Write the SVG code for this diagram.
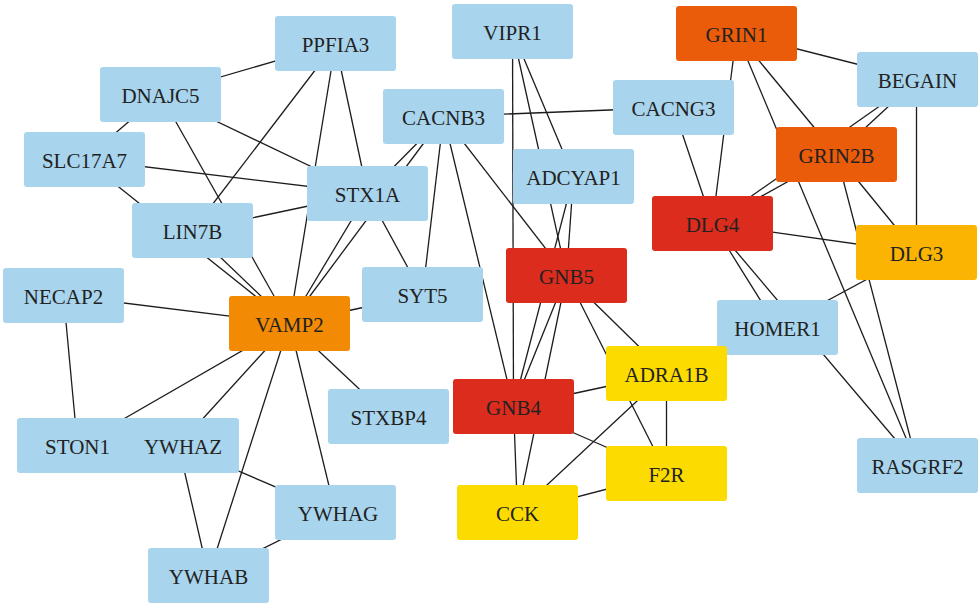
<svg xmlns="http://www.w3.org/2000/svg" width="978" height="603" viewBox="0 0 978 603">
<style>
.e line{stroke:#1c1c1c;stroke-width:1.3;fill:none}
rect{rx:3;ry:3;width:121px;height:55px}
.b{fill:#a8d5ed}.o{fill:#f28a04}.g{fill:#ea5b0a}.r{fill:#dc2c1d}.d{fill:#fbb401}.y{fill:#fcdb00}
text{font-family:"Liberation Serif","Times New Roman",serif;font-size:21px;fill:#222;text-anchor:middle}
</style>
<rect width="978" height="603" x="0" y="0" style="fill:#fff;rx:0;ry:0"/>
<g class="e" id="connectors">
<line x1="160.5" y1="94.5" x2="335.5" y2="43.5"/>
<line x1="335.5" y1="43.5" x2="192.5" y2="230.5"/>
<line x1="335.5" y1="43.5" x2="289.5" y2="323.5"/>
<line x1="335.5" y1="43.5" x2="367.5" y2="193.5"/>
<line x1="160.5" y1="94.5" x2="84.5" y2="159.5"/>
<line x1="160.5" y1="94.5" x2="289.5" y2="323.5"/>
<line x1="160.5" y1="94.5" x2="367.5" y2="193.5"/>
<line x1="84.5" y1="159.5" x2="367.5" y2="193.5"/>
<line x1="84.5" y1="159.5" x2="289.5" y2="323.5"/>
<line x1="192.5" y1="230.5" x2="289.5" y2="323.5"/>
<line x1="192.5" y1="230.5" x2="367.5" y2="193.5"/>
<line x1="367.5" y1="193.5" x2="289.5" y2="323.5"/>
<line x1="443.5" y1="116.5" x2="367.5" y2="193.5"/>
<line x1="443.5" y1="116.5" x2="289.5" y2="323.5"/>
<line x1="367.5" y1="193.5" x2="422.5" y2="294.5"/>
<line x1="443.5" y1="116.5" x2="422.5" y2="294.5"/>
<line x1="443.5" y1="116.5" x2="513.5" y2="406.5"/>
<line x1="443.5" y1="116.5" x2="566.5" y2="275.5"/>
<line x1="443.5" y1="116.5" x2="673.5" y2="107.5"/>
<line x1="512.5" y1="31.5" x2="513.5" y2="406.5"/>
<line x1="512.5" y1="31.5" x2="566.5" y2="275.5"/>
<line x1="512.5" y1="31.5" x2="573.5" y2="176.5"/>
<line x1="573.5" y1="176.5" x2="566.5" y2="275.5"/>
<line x1="573.5" y1="176.5" x2="513.5" y2="406.5"/>
<line x1="566.5" y1="275.5" x2="513.5" y2="406.5"/>
<line x1="566.5" y1="275.5" x2="517.5" y2="512.5"/>
<line x1="513.5" y1="406.5" x2="517.5" y2="512.5"/>
<line x1="566.5" y1="275.5" x2="666.5" y2="373.5"/>
<line x1="566.5" y1="275.5" x2="666.5" y2="473.5"/>
<line x1="513.5" y1="406.5" x2="666.5" y2="373.5"/>
<line x1="513.5" y1="406.5" x2="666.5" y2="473.5"/>
<line x1="666.5" y1="373.5" x2="666.5" y2="473.5"/>
<line x1="666.5" y1="373.5" x2="517.5" y2="512.5"/>
<line x1="666.5" y1="473.5" x2="517.5" y2="512.5"/>
<line x1="673.5" y1="107.5" x2="712.5" y2="223.5"/>
<line x1="736.5" y1="33.5" x2="712.5" y2="223.5"/>
<line x1="736.5" y1="33.5" x2="917.5" y2="79.5"/>
<line x1="736.5" y1="33.5" x2="836.5" y2="154.5"/>
<line x1="736.5" y1="33.5" x2="917.5" y2="465.5"/>
<line x1="836.5" y1="154.5" x2="917.5" y2="465.5"/>
<line x1="836.5" y1="154.5" x2="916.5" y2="252.5"/>
<line x1="917.5" y1="79.5" x2="712.5" y2="223.5"/>
<line x1="917.5" y1="79.5" x2="836.5" y2="154.5"/>
<line x1="836.5" y1="154.5" x2="712.5" y2="223.5"/>
<line x1="916.5" y1="79.5" x2="916.5" y2="252.5"/>
<line x1="712.5" y1="223.5" x2="916.5" y2="252.5"/>
<line x1="712.5" y1="223.5" x2="777.5" y2="327.5"/>
<line x1="712.5" y1="223.5" x2="917.5" y2="465.5"/>
<line x1="916.5" y1="252.5" x2="777.5" y2="327.5"/>
<line x1="63.5" y1="295.5" x2="289.5" y2="323.5"/>
<line x1="63.5" y1="295.5" x2="77.5" y2="445.5"/>
<line x1="289.5" y1="323.5" x2="422.5" y2="294.5"/>
<line x1="289.5" y1="323.5" x2="388.5" y2="416.5"/>
<line x1="289.5" y1="323.5" x2="77.5" y2="445.5"/>
<line x1="289.5" y1="323.5" x2="178.5" y2="445.5"/>
<line x1="289.5" y1="323.5" x2="208.5" y2="575.5"/>
<line x1="289.5" y1="323.5" x2="335.5" y2="512.5"/>
<line x1="178.5" y1="445.5" x2="335.5" y2="512.5"/>
<line x1="178.5" y1="445.5" x2="208.5" y2="575.5"/>
<line x1="335.5" y1="512.5" x2="208.5" y2="575.5"/>
</g>
<g id="PPFIA3"><rect class="b" x="275" y="16"/><text x="335.5" y="51.5">PPFIA3</text></g>
<g id="DNAJC5"><rect class="b" x="100" y="67"/><text x="160.5" y="102.5">DNAJC5</text></g>
<g id="SLC17A7"><rect class="b" x="24" y="132"/><text x="84.5" y="167.5">SLC17A7</text></g>
<g id="LIN7B"><rect class="b" x="132" y="203"/><text x="192.5" y="238.5">LIN7B</text></g>
<g id="STX1A"><rect class="b" x="307" y="166"/><text x="367.5" y="201.5">STX1A</text></g>
<g id="CACNB3"><rect class="b" x="383" y="89"/><text x="443.5" y="124.5">CACNB3</text></g>
<g id="NECAP2"><rect class="b" x="3" y="268"/><text x="63.5" y="303.5">NECAP2</text></g>
<g id="VIPR1"><rect class="b" x="452" y="4"/><text x="512.5" y="39.5">VIPR1</text></g>
<g id="GRIN1"><rect class="g" x="676" y="6"/><text x="736.5" y="41.5">GRIN1</text></g>
<g id="BEGAIN"><rect class="b" x="857" y="52"/><text x="917.5" y="87.5">BEGAIN</text></g>
<g id="CACNG3"><rect class="b" x="613" y="80"/><text x="673.5" y="115.5">CACNG3</text></g>
<g id="ADCYAP1"><rect class="b" x="513" y="149"/><text x="573.5" y="184.5">ADCYAP1</text></g>
<g id="GRIN2B"><rect class="g" x="776" y="127"/><text x="836.5" y="162.5">GRIN2B</text></g>
<g id="DLG4"><rect class="r" x="652" y="196"/><text x="712.5" y="231.5">DLG4</text></g>
<g id="DLG3"><rect class="d" x="856" y="225"/><text x="916.5" y="260.5">DLG3</text></g>
<g id="GNB5"><rect class="r" x="506" y="248"/><text x="566.5" y="283.5">GNB5</text></g>
<g id="SYT5"><rect class="b" x="362" y="267"/><text x="422.5" y="302.5">SYT5</text></g>
<g id="VAMP2"><rect class="o" x="229" y="296"/><text x="289.5" y="331.5">VAMP2</text></g>
<g id="HOMER1"><rect class="b" x="717" y="300"/><text x="777.5" y="335.5">HOMER1</text></g>
<g id="ADRA1B"><rect class="y" x="606" y="346"/><text x="666.5" y="381.5">ADRA1B</text></g>
<g id="GNB4"><rect class="r" x="453" y="379"/><text x="513.5" y="414.5">GNB4</text></g>
<g id="F2R"><rect class="y" x="606" y="446"/><text x="666.5" y="481.5">F2R</text></g>
<g id="CCK"><rect class="y" x="457" y="485"/><text x="517.5" y="520.5">CCK</text></g>
<g id="RASGRF2"><rect class="b" x="857" y="438"/><text x="917.5" y="473.5">RASGRF2</text></g>
<g id="STON1"><rect class="b" x="17" y="418"/><text x="77.5" y="453.5">STON1</text></g>
<g id="YWHAZ"><rect class="b" x="118" y="418"/><text x="183" y="453.5">YWHAZ</text></g>
<g id="STXBP4"><rect class="b" x="328" y="389"/><text x="388.5" y="424.5">STXBP4</text></g>
<g id="YWHAG"><rect class="b" x="275" y="485"/><text x="338" y="520.5">YWHAG</text></g>
<g id="YWHAB"><rect class="b" x="148" y="548"/><text x="208.5" y="583.5">YWHAB</text></g>
</svg>
